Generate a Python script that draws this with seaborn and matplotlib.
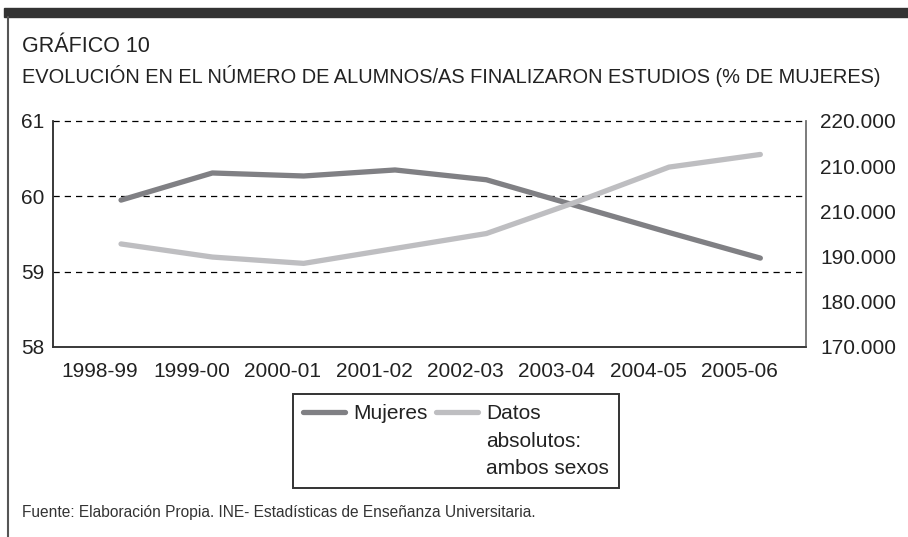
import pandas as pd
import matplotlib.pyplot as plt
import matplotlib.transforms as mtransforms
from matplotlib.patches import Rectangle
from matplotlib.lines import Line2D
import seaborn as sns

# datos
cursos = ["1998-99", "1999-00", "2000-01", "2001-02",
          "2002-03", "2003-04", "2004-05", "2005-06"]
mujeres_pct = [59.95, 60.31, 60.27, 60.35, 60.22, 59.87, 59.52, 59.18]
total_alumnos = [192800, 189900, 188500, 191800, 195100, 202200, 209800, 212600]

ticks_izq = [58, 59, 60, 61]
etiquetas_izq = ["58", "59", "60", "61"]
ticks_der = [170000, 180000, 190000, 200000, 210000, 220000]
# el original repite "210.000"
etiquetas_der = ["170.000", "180.000", "190.000", "210.000", "210.000", "220.000"]

titulo_1 = "GRÁFICO 10"
titulo_2 = "EVOLUCIÓN EN EL NÚMERO DE ALUMNOS/AS FINALIZARON ESTUDIOS (% DE MUJERES)"
fuente = "Fuente: Elaboración Propia. INE- Estadísticas de Enseñanza Universitaria."

OSCURO = "#808084"
CLARO = "#bebec1"
TEXTO = "#222222"

sns.set_style("white")
plt.rcParams["font.family"] = ["Liberation Sans", "DejaVu Sans"]
plt.rcParams["text.color"] = TEXTO

df = pd.DataFrame({"curso": cursos, "mujeres": mujeres_pct, "total": total_alumnos})

W, H = 908, 537
fig = plt.figure(figsize=(W / 100, H / 100), dpi=100)
ax = fig.add_axes([53 / W, 1 - 347 / H, 753 / W, 226 / H])
ax2 = ax.twinx()

sns.lineplot(data=df, x="curso", y="mujeres", ax=ax, color=OSCURO, lw=3.8,
             label="Mujeres", sort=False)
sns.lineplot(data=df, x="curso", y="total", ax=ax2, color=CLARO, lw=3.8,
             label="Datos\nabsolutos:\nambos sexos", sort=False)

h1, l1 = ax.get_legend_handles_labels()
h2, l2 = ax2.get_legend_handles_labels()
ax.get_legend().remove()
ax2.get_legend().remove()

ax.set_xlim(-0.745, 7.5)
ax.set_ylim(58, 61)
ax2.set_ylim(170000, 220000)

for v in [59, 60, 61]:
    ax.axhline(v, color="black", lw=0.9, ls=(0, (5, 4)), clip_on=False, zorder=1)

ax.set_xlabel("")
ax.set_ylabel("")
ax2.set_ylabel("")

ax.set_yticks(ticks_izq, etiquetas_izq)
ax2.set_yticks(ticks_der, etiquetas_der)
ax.tick_params(axis="y", length=0, pad=6, labelsize=15, labelcolor=TEXTO)
ax2.tick_params(axis="y", length=0, pad=10, labelsize=15, labelcolor=TEXTO)

ax.set_xticks(range(len(cursos)), cursos)
ax.tick_params(axis="x", length=0, pad=11, labelsize=15, labelcolor=TEXTO)
ax.set_xticks([0.3, 1.3], minor=True)
ax.tick_params(axis="x", which="minor", direction="in", length=7, width=1, color="#333333")
desplaza = mtransforms.ScaledTranslation(-21 / 100, 0, fig.dpi_scale_trans)
for lab in ax.get_xticklabels():
    lab.set_transform(lab.get_transform() + desplaza)

for a in (ax, ax2):
    a.spines["top"].set_visible(False)
    a.spines["left"].set_color("#333333")
    a.spines["bottom"].set_color("#333333")
    a.spines["right"].set_color("#777777")
    for s in ("left", "bottom", "right"):
        a.spines[s].set_linewidth(1.1)

leg = fig.legend(h1 + h2, l1 + l2, ncol=2, loc="upper left",
                 bbox_to_anchor=(293 / W, 1 - 394 / H), fontsize=15,
                 frameon=True, fancybox=False, edgecolor="black",
                 handlelength=2.0, handletextpad=0.4, columnspacing=0.4,
                 borderpad=0.5, labelspacing=0.2, borderaxespad=0)
leg.get_frame().set_linewidth(1.4)
for t in leg.get_texts():
    t.set_linespacing(1.55)
leg._legend_handle_box.align = "top"
for col in leg._legend_handle_box.get_children():
    col.align = "left"
    for item in col.get_children():
        item.align = "top"

# marco de la pagina
fig.patches.append(Rectangle((4 / W, 1 - 17 / H), 1 - 4 / W, 9 / H,
                             transform=fig.transFigure, color="#333333"))
fig.lines.append(Line2D([8 / W, 8 / W], [0, 1 - 17 / H], transform=fig.transFigure,
                        color="#555555", lw=1.5))

fig.text(22 / W, 1 - 46 / H, titulo_1, va="center", fontsize=15.5)
fig.text(22 / W, 1 - 76 / H, titulo_2, va="center", fontsize=14.4)
fig.text(22 / W, 1 - 513 / H, fuente, va="center", fontsize=11.2, color="#333333")

fig.savefig("out.png", dpi=100)
